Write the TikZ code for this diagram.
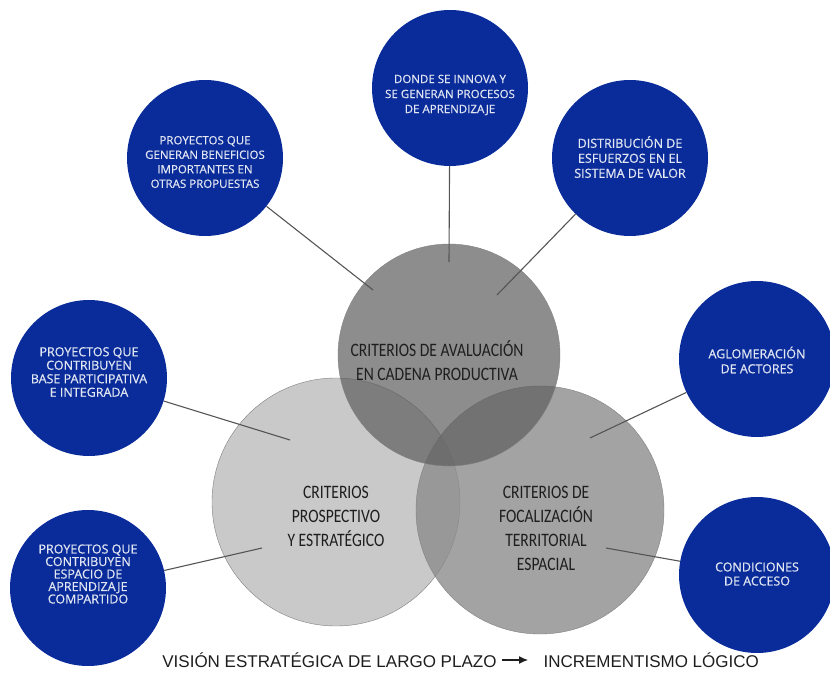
\documentclass[tikz,border=0pt]{standalone}
\usepackage{fontspec}
\setmainfont{Open Sans}
\newfontfamily\blobfont[FakeBold=0.6]{Open Sans}
\newfontfamily\vennfont[FakeStretch=0.82]{Carlito}
\newfontfamily\footfont{Liberation Sans}
\usetikzlibrary{arrows.meta}

\definecolor{blobblue}{RGB}{10,44,154}
\definecolor{blobtext}{RGB}{225,230,242}
\definecolor{venntext}{RGB}{30,30,30}
\definecolor{linkgray}{RGB}{85,85,85}

\begin{document}
\begin{tikzpicture}[x=1pt,y=-1pt,>=latex,
    blob/.style={circle,fill=blobblue,minimum size=156pt,inner sep=0pt},
    venn/.style={circle,inner sep=0pt,draw=black!50,line width=0.4pt},
    venntxt/.style={text=venntext,align=center,font=\vennfont\fontsize{19}{24}\selectfont},
    link/.style={draw=linkgray,line width=1.1pt},
    foot/.style={text=venntext,font=\footfont\fontsize{17}{20}\selectfont}]
        \useasboundingbox (0,0) rectangle (830,684);

        % draw the three criteria circles
        \node[venn,minimum size=248pt,fill=black!21] (prosp) at (336,502) {};
        \node[venn,minimum size=248pt,fill=black!45,fill opacity=0.8] (focal) at (540,510) {};
        \node[venn,minimum size=222pt,fill=black!63,fill opacity=0.71] (cadena) at (449,355) {};

        \node[venntxt] (cadena-t) at (437,361) {CRITERIOS DE AVALUACIÓN\\EN CADENA PRODUCTIVA};
        \node[venntxt] (prosp-t) at (336,516) {CRITERIOS\\PROSPECTIVO\\Y ESTRATÉGICO};
        \node[venntxt] (focal-t) at (546,528) {CRITERIOS DE\\FOCALIZACIÓN\\TERRITORIAL\\ESPACIAL};

        %draw the outer circles
        \foreach \nm/\x/\y/\ty/\fs/\lh/\txt in {
            tc/450/88/95/11.5/15/{DONDE SE INNOVA Y\\SE GENERAN PROCESOS\\DE APRENDIZAJE},
            tl/205/158/162/11.5/14.5/{PROYECTOS QUE\\GENERAN BENEFICIOS\\IMPORTANTES EN\\OTRAS PROPUESTAS},
            tr/630/158/157/12.5/15/{DISTRIBUCIÓN DE\\ESFUERZOS EN EL\\SISTEMA DE VALOR},
            ml/89/378/372/12.5/13.5/{PROYECTOS QUE\\CONTRIBUYEN\\BASE PARTICIPATIVA\\E INTEGRADA},
            mr/757/359/360/12.5/15/{AGLOMERACIÓN\\DE ACTORES},
            bl/88/588/574/12.5/12.5/{PROYECTOS QUE\\CONTRIBUYEN\\ESPACIO DE\\APRENDIZAJE\\COMPARTIDO},
            br/757/575/574/12.5/14/{CONDICIONES\\DE ACCESO}} {
                \node[blob] (\nm) at (\x,\y) {};
                \node[text=blobtext,align=center,font=\blobfont\fontsize{\fs}{\lh}\selectfont]
                    (\nm-t) at (\x,\ty) {\txt};
        }

        % lines from outer circles into the criteria
        \foreach \nm/\x/\y in {tc/449/262, tl/373/290, tr/497/295, ml/290/440,
                               bl/262/548, mr/590/438, br/606/548} {
                \coordinate (\nm-end) at (\x,\y);
                \draw[link] (\nm) -- (\nm-end);
        }

        % bottom caption
        \node[foot,anchor=east] (vision) at (500,660) {VISIÓN ESTRATÉGICA DE LARGO PLAZO};
        \node[foot,anchor=west] (increm) at (540,660) {INCREMENTISMO LÓGICO};
        \draw[-{Latex[length=9pt,width=8pt]},line width=1.2pt,venntext,shorten <=2pt,shorten >=12pt] (vision) -- (increm);
\end{tikzpicture}
\end{document}
